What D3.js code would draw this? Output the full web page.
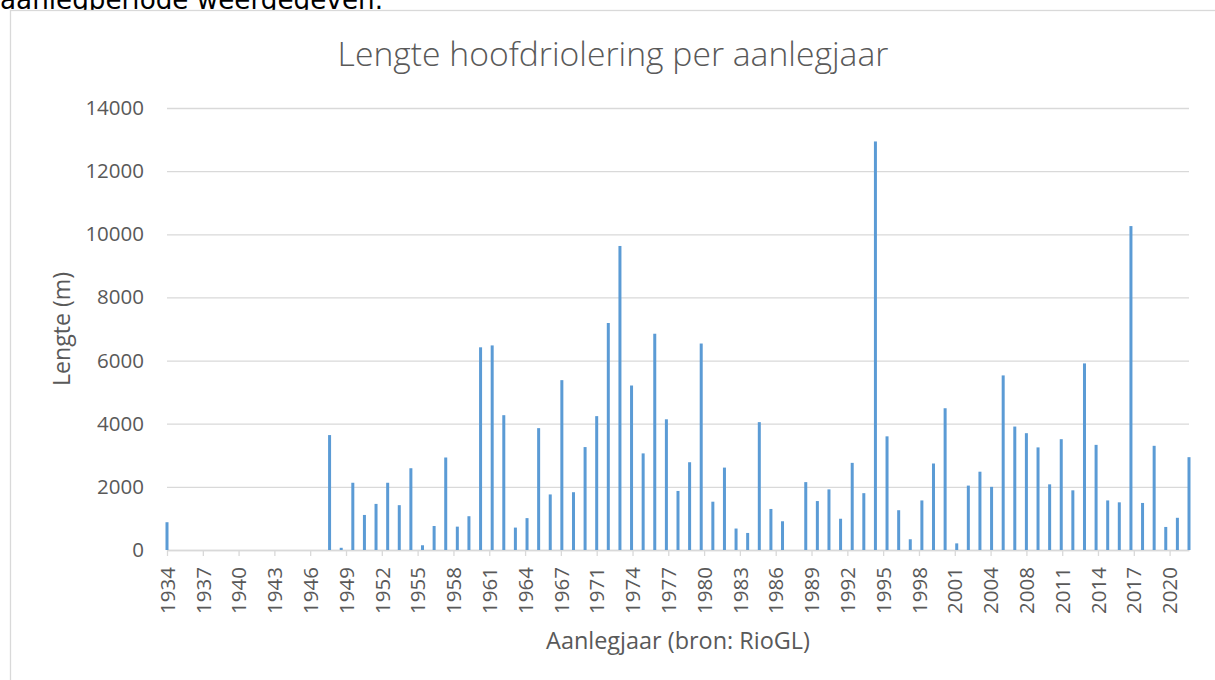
<!DOCTYPE html>
<html>
<head>
<meta charset="utf-8">
<script src="https://cdn.jsdelivr.net/npm/d3@7"></script>
<style>
  html, body { margin: 0; padding: 0; background: #fff; }
  svg { display: block; }
</style>
</head>
<body>
<svg id="chart" width="1215" height="680"></svg>
<script>
// ---- data ----
const years = [1934,1935,1936,1937,1938,1939,1940,1941,1942,1943,1944,1945,1946,1947,
  1948,1949,1950,1951,1952,1953,1954,1955,1956,1957,1958,1959,1960,1961,1962,1963,
  1964,1965,1966,1967,1968,1969,1970,1971,1972,1973,1974,1975,1976,1977,1978,1979,
  1980,1981,1982,1983,1984,1985,1986,1987,1988,1989,1990,1991,1992,1993,1994,1995,
  1996,1997,1998,1999,2000,2001,2002,2003,2004,2005,2006,2007,2008,2009,2010,2011,
  2012,2013,2014,2015,2016,2017,2018,2019,2020,2021,2022];
const lengths = [880,0,0,0,0,0,0,0,0,0,0,0,0,0,
  3640,70,2130,1110,1460,2130,1420,2590,150,760,2930,740,1070,6420,6480,4270,
  710,1010,3860,1760,5380,1830,3260,4240,7190,9630,5210,3060,6850,4140,1870,2780,
  6540,1530,2610,680,540,4050,1300,910,0,2150,1550,1920,990,2760,1800,12940,
  3600,1260,340,1570,2740,4490,210,2040,2480,2000,5530,3910,3700,3250,2080,3510,
  1890,5910,3330,1570,1510,10260,1490,3300,730,1020,2940];
const yTicks = [0,2000,4000,6000,8000,10000,12000,14000];
const tickStepMonths = 37;           // Excel date-axis major unit
const titleText = "Lengte hoofdriolering per aanlegjaar";
const xTitle = "Aanlegjaar (bron: RioGL)";
const yTitle = "Lengte (m)";
const topText = "aanlegperiode weergegeven.";

// ---- layout ----
const L = 167, R = 1189, T = 108, B = 550;
const svg = d3.select("#chart");
const FONT = "'Open Sans', 'Noto Sans', sans-serif";
const GRID = "#d9d9d9", TXT = "#595959", BAR = "#5b9bd5";

const start = new Date(years[0], 0, 1);
const end = new Date(years[years.length - 1], 0, 1);
const x = d3.scaleTime().domain([start, end]).range([L, R]);
const y = d3.scaleLinear().domain([0, 14000]).range([B, T]);

function fit(sel, target) {
  const n = sel.node();
  const fs = parseFloat(sel.attr("font-size"));
  const w = n.getComputedTextLength();
  if (w > 0) sel.attr("font-size", fs * target / w);
}

// top text fragment (cut off by the page edge, as in the source)
const tt = svg.append("text").attr("x", 0).attr("y", 9)
  .attr("font-family", "'DejaVu Sans', Verdana, sans-serif")
  .attr("font-size", 22).attr("fill", "#000").text(topText);
fit(tt, 383);

// chart area border
svg.append("rect").attr("x", 10.5).attr("y", 10.5).attr("width", 1300).attr("height", 800)
  .attr("fill", "#fff").attr("stroke", GRID).attr("stroke-width", 1.3);

// title
const title = svg.append("text").attr("x", 613).attr("y", 66)
  .attr("text-anchor", "middle").attr("font-family", FONT).attr("font-weight", 300)
  .attr("font-size", 30).attr("fill", TXT).text(titleText);
fit(title, 551);

// gridlines + y axis labels
const yAxis = d3.axisLeft(y).tickValues(yTicks).tickFormat(d3.format("d"))
  .tickSize(-(R - L)).tickPadding(23);
const gy = svg.append("g").attr("transform", `translate(${L},0)`).call(yAxis);
gy.select(".domain").remove();
gy.selectAll(".tick line").attr("stroke", GRID).attr("stroke-width", 1.3);
gy.selectAll(".tick text").attr("font-family", FONT).attr("font-size", 20.5)
  .attr("fill", TXT);

// x axis
const tickDates = d3.range(0, 1000).map(k => d3.timeMonth.offset(start, k * tickStepMonths))
  .filter(d => d <= end);
const xAxis = d3.axisBottom(x).tickValues(tickDates).tickFormat(d3.timeFormat("%Y"))
  .tickSize(6).tickSizeOuter(0).tickPadding(12);
const gx = svg.append("g").attr("transform", `translate(0,${B})`).call(xAxis);
gx.select(".domain").attr("stroke", GRID).attr("stroke-width", 1.3);
gx.selectAll(".tick line").attr("stroke", GRID).attr("stroke-width", 1.3);
gx.selectAll(".tick text").attr("font-family", FONT).attr("font-size", 20.5)
  .attr("fill", TXT)
  .attr("transform", "rotate(-90)")
  .attr("text-anchor", "end").attr("dy", "0.35em").attr("x", -17).attr("y", 0);

// bars
svg.append("g").selectAll("rect").data(years.map((yr, i) => ({yr, v: lengths[i]})))
  .join("rect")
  .attr("x", d => x(new Date(d.yr, 0, 1)) - 1.5)
  .attr("width", 3)
  .attr("y", d => y(d.v))
  .attr("height", d => B - y(d.v))
  .attr("fill", BAR);

// axis titles
const xt = svg.append("text").attr("x", (L + R) / 2).attr("y", 649)
  .attr("text-anchor", "middle").attr("font-family", FONT)
  .attr("font-size", 21).attr("fill", TXT).text(xTitle);
fit(xt, 264);
const yt = svg.append("text").attr("transform", `translate(70,${(T + B) / 2}) rotate(-90)`)
  .attr("text-anchor", "middle").attr("font-family", FONT)
  .attr("font-size", 21).attr("fill", TXT).text(yTitle);
fit(yt, 114);
</script>
</body>
</html>
